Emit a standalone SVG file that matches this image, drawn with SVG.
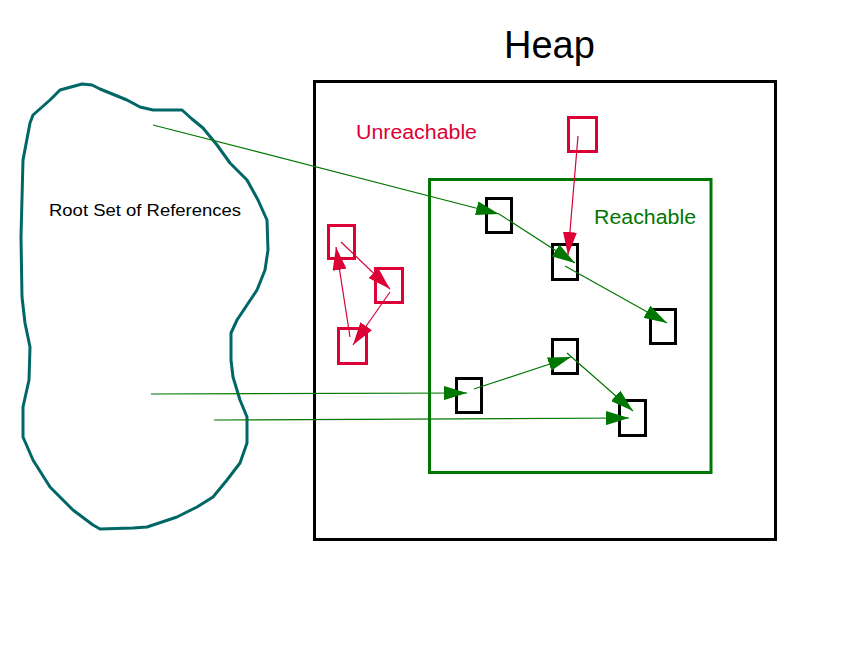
<svg xmlns="http://www.w3.org/2000/svg" width="862" height="652" viewBox="0 0 862 652">
<style>
.obj{fill:none;stroke:#000;stroke-width:3}
.robj{fill:none;stroke:#dc0036;stroke-width:3}
.g{stroke:#007700;stroke-width:1.2;fill:none}
.r{stroke:#dc0036;stroke-width:1.2;fill:none}
.lbl{font-family:"Liberation Sans",Arial,sans-serif}
</style>
<defs>
<marker id="ag" markerUnits="userSpaceOnUse" markerWidth="24" markerHeight="14" refX="23" refY="7" orient="auto" viewBox="0 0 24 14">
<path d="M0,0 L23,7 L0,14 z" fill="#007700"/>
</marker>
<marker id="ar" markerUnits="userSpaceOnUse" markerWidth="24" markerHeight="14" refX="23" refY="7" orient="auto" viewBox="0 0 24 14">
<path d="M0,0 L23,7 L0,14 z" fill="#dc0036"/>
</marker>
</defs>
<rect width="862" height="652" fill="#fff"/>

<g id="root-set">
<path d="M60,90 L82,84 L92,85 L100,89 L127,100 L140,107 L153,110 L182,110 L192,119 L203,128 L217,145 L230,163 L247,180 L258,200 L267,220 L268,250 L265,270 L257,290 L247,305 L237,320 L231,333 L231,360 L233,377 L240,400 L247,417 L247,443 L240,463 L227,480 L213,497 L197,507 L177,517 L147,527 L133,528 L100,529 L93,525 L73,510 L50,487 L33,460 L23,437 L23,407 L29,380 L30,347 L25,323 L22,297 L21,237 L23,160 L30,123 L33,115 L50,100 Z" fill="none" stroke="#006666" stroke-width="3" stroke-linejoin="round"/>
<text class="lbl" x="49" y="216" font-size="16" textLength="192" lengthAdjust="spacingAndGlyphs" fill="#000">Root Set of References</text>
</g>

<g id="heap">
<rect x="314.5" y="81.5" width="461" height="458" fill="none" stroke="#000" stroke-width="3"/>
<text class="lbl" x="504" y="58" font-size="38" fill="#000">Heap</text>
</g>

<g id="reachable">
<rect x="429.5" y="179.5" width="281.5" height="293" fill="none" stroke="#007700" stroke-width="3"/>
<text class="lbl" x="594" y="224" font-size="20" textLength="102" lengthAdjust="spacingAndGlyphs" fill="#007700">Reachable</text>
</g>

<text id="unreachable-label" class="lbl" x="356" y="139" font-size="20" textLength="121" lengthAdjust="spacingAndGlyphs" fill="#dc0036">Unreachable</text>

<g id="objA"><rect class="obj" x="486.5" y="198.5" width="25" height="34"/></g>
<g id="objB"><rect class="obj" x="552.5" y="244.5" width="25" height="35"/></g>
<g id="objC"><rect class="obj" x="650.5" y="309.5" width="25" height="34"/></g>
<g id="objD"><rect class="obj" x="552.5" y="339.5" width="25" height="34"/></g>
<g id="objE"><rect class="obj" x="456.5" y="378.5" width="25" height="34"/></g>
<g id="objF"><rect class="obj" x="619.5" y="400.5" width="26" height="35"/></g>

<g id="u1"><rect class="robj" x="328.5" y="225.5" width="26" height="33"/></g>
<g id="u2"><rect class="robj" x="375.5" y="268.5" width="27" height="34"/></g>
<g id="u3"><rect class="robj" x="338.5" y="328.5" width="28" height="35"/></g>
<g id="u4"><rect class="robj" x="568.5" y="117.5" width="28" height="34"/></g>

<g id="connectors">
<line class="g" x1="153" y1="125" x2="499" y2="214" marker-end="url(#ag)"/>
<line class="g" x1="499" y1="214" x2="575" y2="263" marker-end="url(#ag)"/>
<line class="g" x1="565" y1="266" x2="667" y2="323" marker-end="url(#ag)"/>
<line class="g" x1="151" y1="394" x2="467" y2="393" marker-end="url(#ag)"/>
<line class="g" x1="474" y1="389" x2="571" y2="357" marker-end="url(#ag)"/>
<line class="g" x1="567" y1="353" x2="633" y2="411" marker-end="url(#ag)"/>
<line class="g" x1="214" y1="420" x2="629" y2="418" marker-end="url(#ag)"/>
<line class="r" x1="578" y1="136" x2="568" y2="255" marker-end="url(#ar)"/>
<line class="r" x1="341" y1="242" x2="390" y2="289" marker-end="url(#ar)"/>
<line class="r" x1="390" y1="292" x2="353" y2="345" marker-end="url(#ar)"/>
<line class="r" x1="350" y1="337" x2="336" y2="247" marker-end="url(#ar)"/>
</g>
</svg>
